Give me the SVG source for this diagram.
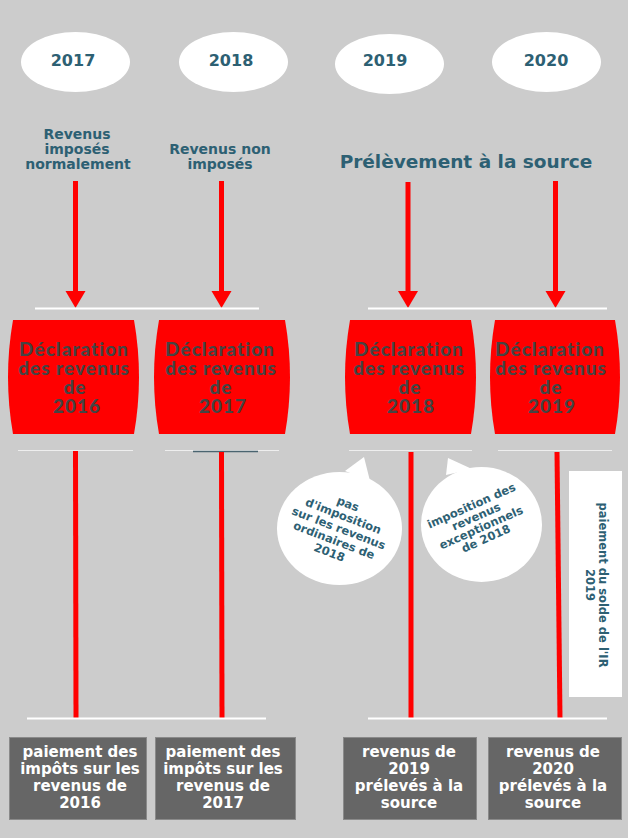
<svg xmlns="http://www.w3.org/2000/svg" width="628" height="838" viewBox="0 0 628 838">
<style>
.yr{font-family:"DejaVu Sans","Liberation Sans",sans-serif;font-weight:700;font-size:16px;fill:#2d6073;text-anchor:middle}
.lbl{font-family:"DejaVu Sans","Liberation Sans",sans-serif;font-weight:700;font-size:14px;fill:#2d6073;text-anchor:middle}
.big{font-family:"DejaVu Sans","Liberation Sans",sans-serif;font-weight:700;font-size:18.5px;fill:#2d6073;text-anchor:middle}
.dec{font-family:"Lato","Liberation Sans",sans-serif;font-weight:900;font-size:19px;letter-spacing:1px;fill:#444444;text-anchor:middle}
.pay{font-family:"DejaVu Sans","Liberation Sans",sans-serif;font-weight:700;font-size:15px;fill:#ffffff;text-anchor:middle}
.bub{font-family:"DejaVu Sans","Liberation Sans",sans-serif;font-weight:700;font-size:11.5px;fill:#2d6073;text-anchor:middle}
.ell{fill:#ffffff}
.red{fill:#ff0000}
.gbox{fill:#666666;stroke:#8a8a8a;stroke-width:1}
.rl{stroke:#ff0000;stroke-width:5;fill:none}
.wl{stroke:#ffffff;stroke-width:2;fill:none}
.tl{stroke:#eeeeee;stroke-width:1;fill:none}
</style>
<rect x="0" y="0" width="628" height="838" fill="#cccccc"/>

<g id="year-2017"><ellipse class="ell" cx="75.5" cy="62" rx="54.5" ry="30"/><text class="yr" x="73" y="66">2017</text></g>
<g id="year-2018"><ellipse class="ell" cx="233.5" cy="62" rx="54.5" ry="30"/><text class="yr" x="231" y="66">2018</text></g>
<g id="year-2019"><ellipse class="ell" cx="389.5" cy="64" rx="54.5" ry="30"/><text class="yr" x="385" y="66">2019</text></g>
<g id="year-2020"><ellipse class="ell" cx="546.5" cy="62" rx="54.5" ry="30"/><text class="yr" x="546" y="66">2020</text></g>

<g id="label-2017"><text class="lbl"><tspan x="77" y="139">Revenus</tspan><tspan x="77" y="154">imposés</tspan><tspan x="78" y="169">normalement</tspan></text></g>
<g id="label-2018"><text class="lbl"><tspan x="220" y="154">Revenus non</tspan><tspan x="220" y="169">imposés</tspan></text></g>
<g id="label-source"><text class="big" x="466" y="168">Prélèvement à la source</text></g>

<g id="connectors">
<line class="rl" x1="75.5" y1="181" x2="75.5" y2="292"/>
<line class="rl" x1="221.5" y1="181" x2="221.5" y2="292"/>
<line class="rl" x1="408" y1="182" x2="408" y2="292"/>
<line class="rl" x1="555.5" y1="181" x2="555.5" y2="292"/>
<path class="red" d="M65.5,291 L85.5,291 L75.5,308 Z"/>
<path class="red" d="M211.5,291 L231.5,291 L221.5,308 Z"/>
<path class="red" d="M398,291 L418,291 L408,308 Z"/>
<path class="red" d="M545.5,291 L565.5,291 L555.5,308 Z"/>
<line class="wl" x1="35" y1="308.5" x2="259" y2="308.5"/>
<line class="wl" x1="368" y1="308.5" x2="607" y2="308.5"/>
<line class="tl" x1="18" y1="450.5" x2="133" y2="450.5"/>
<line class="tl" x1="165" y1="450.5" x2="279" y2="450.5"/>
<line x1="193" y1="451.5" x2="258" y2="451.5" stroke="#4a6470" stroke-width="1.5"/>
<line class="tl" x1="349" y1="450.5" x2="472" y2="450.5"/>
<line class="tl" x1="498" y1="450.5" x2="612" y2="450.5"/>
<line class="rl" x1="75.5" y1="451" x2="76" y2="718"/>
<line class="rl" x1="221.5" y1="452" x2="222" y2="718"/>
<line class="rl" x1="411" y1="452" x2="411" y2="718"/>
<line class="rl" x1="557" y1="452" x2="560" y2="718"/>
<line class="wl" x1="27" y1="718.5" x2="266" y2="718.5"/>
<line class="wl" x1="368" y1="718.5" x2="607" y2="718.5"/>
</g>

<g id="decl-2016"><path class="red" d="M13,320 L134,320 Q144,377 134,434 L13,434 Q3,377 13,320 Z"/>
<text class="dec"><tspan x="74" y="356">Déclaration</tspan><tspan x="74" y="375">des revenus</tspan><tspan x="75" y="394">de</tspan><tspan x="77" y="413">2016</tspan></text></g>
<g id="decl-2017"><path class="red" d="M159,320 L285,320 Q295,377 285,434 L159,434 Q149,377 159,320 Z"/>
<text class="dec"><tspan x="220" y="356">Déclaration</tspan><tspan x="221" y="375">des revenus</tspan><tspan x="221" y="394">de</tspan><tspan x="223" y="413">2017</tspan></text></g>
<g id="decl-2018"><path class="red" d="M350,320 L471,320 Q481,377 471,434 L350,434 Q340,377 350,320 Z"/>
<text class="dec"><tspan x="409" y="356">Déclaration</tspan><tspan x="409" y="375">des revenus</tspan><tspan x="410" y="394">de</tspan><tspan x="411" y="413">2018</tspan></text></g>
<g id="decl-2019"><path class="red" d="M495,320 L615,320 Q625,377 615,434 L495,434 Q485,377 495,320 Z"/>
<text class="dec"><tspan x="550" y="356">Déclaration</tspan><tspan x="551" y="375">des revenus</tspan><tspan x="551" y="394">de</tspan><tspan x="552" y="413">2019</tspan></text></g>

<g id="bubble-ordinaires">
<path class="ell" d="M345,471 L364,457 L370,481 Z"/>
<ellipse class="ell" cx="339.5" cy="528.5" rx="62.5" ry="56.5"/>
<text class="bub" transform="translate(338,530) rotate(21)"><tspan x="0" y="-24">pas</tspan><tspan x="0" y="-11">d'imposition</tspan><tspan x="0" y="2">sur les revenus</tspan><tspan x="0" y="15">ordinaires de</tspan><tspan x="0" y="28">2018</tspan></text>
</g>
<g id="bubble-exceptionnels">
<path class="ell" d="M446,475 L448,458 L472,469 Z"/>
<ellipse class="ell" cx="481.5" cy="524.5" rx="60.5" ry="57.5"/>
<text class="bub" font-size="10.5" transform="translate(479,523) rotate(-24)"><tspan x="0" y="-15">imposition des</tspan><tspan x="0" y="-3">revenus</tspan><tspan x="0" y="9">exceptionnels</tspan><tspan x="0" y="21">de 2018</tspan></text>
</g>
<g id="solde-2019">
<rect x="569" y="471" width="53" height="226" fill="#ffffff"/>
<text class="bub" font-size="12" transform="translate(596,585) rotate(90)"><tspan x="0" y="-3">paiement du solde de l'IR</tspan><tspan x="0" y="10">2019</tspan></text>
</g>

<g id="pay-2016"><rect class="gbox" x="9.5" y="737.5" width="137" height="82"/>
<text class="pay"><tspan x="80" y="757">paiement des</tspan><tspan x="80" y="774">impôts sur les</tspan><tspan x="80" y="791">revenus de</tspan><tspan x="80" y="808">2016</tspan></text></g>
<g id="pay-2017"><rect class="gbox" x="155.5" y="737.5" width="140" height="82"/>
<text class="pay"><tspan x="223" y="757">paiement des</tspan><tspan x="223" y="774">impôts sur les</tspan><tspan x="223" y="791">revenus de</tspan><tspan x="223" y="808">2017</tspan></text></g>
<g id="pay-2019"><rect class="gbox" x="343.5" y="737.5" width="133" height="82"/>
<text class="pay"><tspan x="409" y="757">revenus de</tspan><tspan x="409" y="774">2019</tspan><tspan x="409" y="791">prélevés à la</tspan><tspan x="409" y="808">source</tspan></text></g>
<g id="pay-2020"><rect class="gbox" x="488.5" y="737.5" width="133" height="82"/>
<text class="pay"><tspan x="553" y="757">revenus de</tspan><tspan x="553" y="774">2020</tspan><tspan x="553" y="791">prélevés à la</tspan><tspan x="553" y="808">source</tspan></text></g>
</svg>
